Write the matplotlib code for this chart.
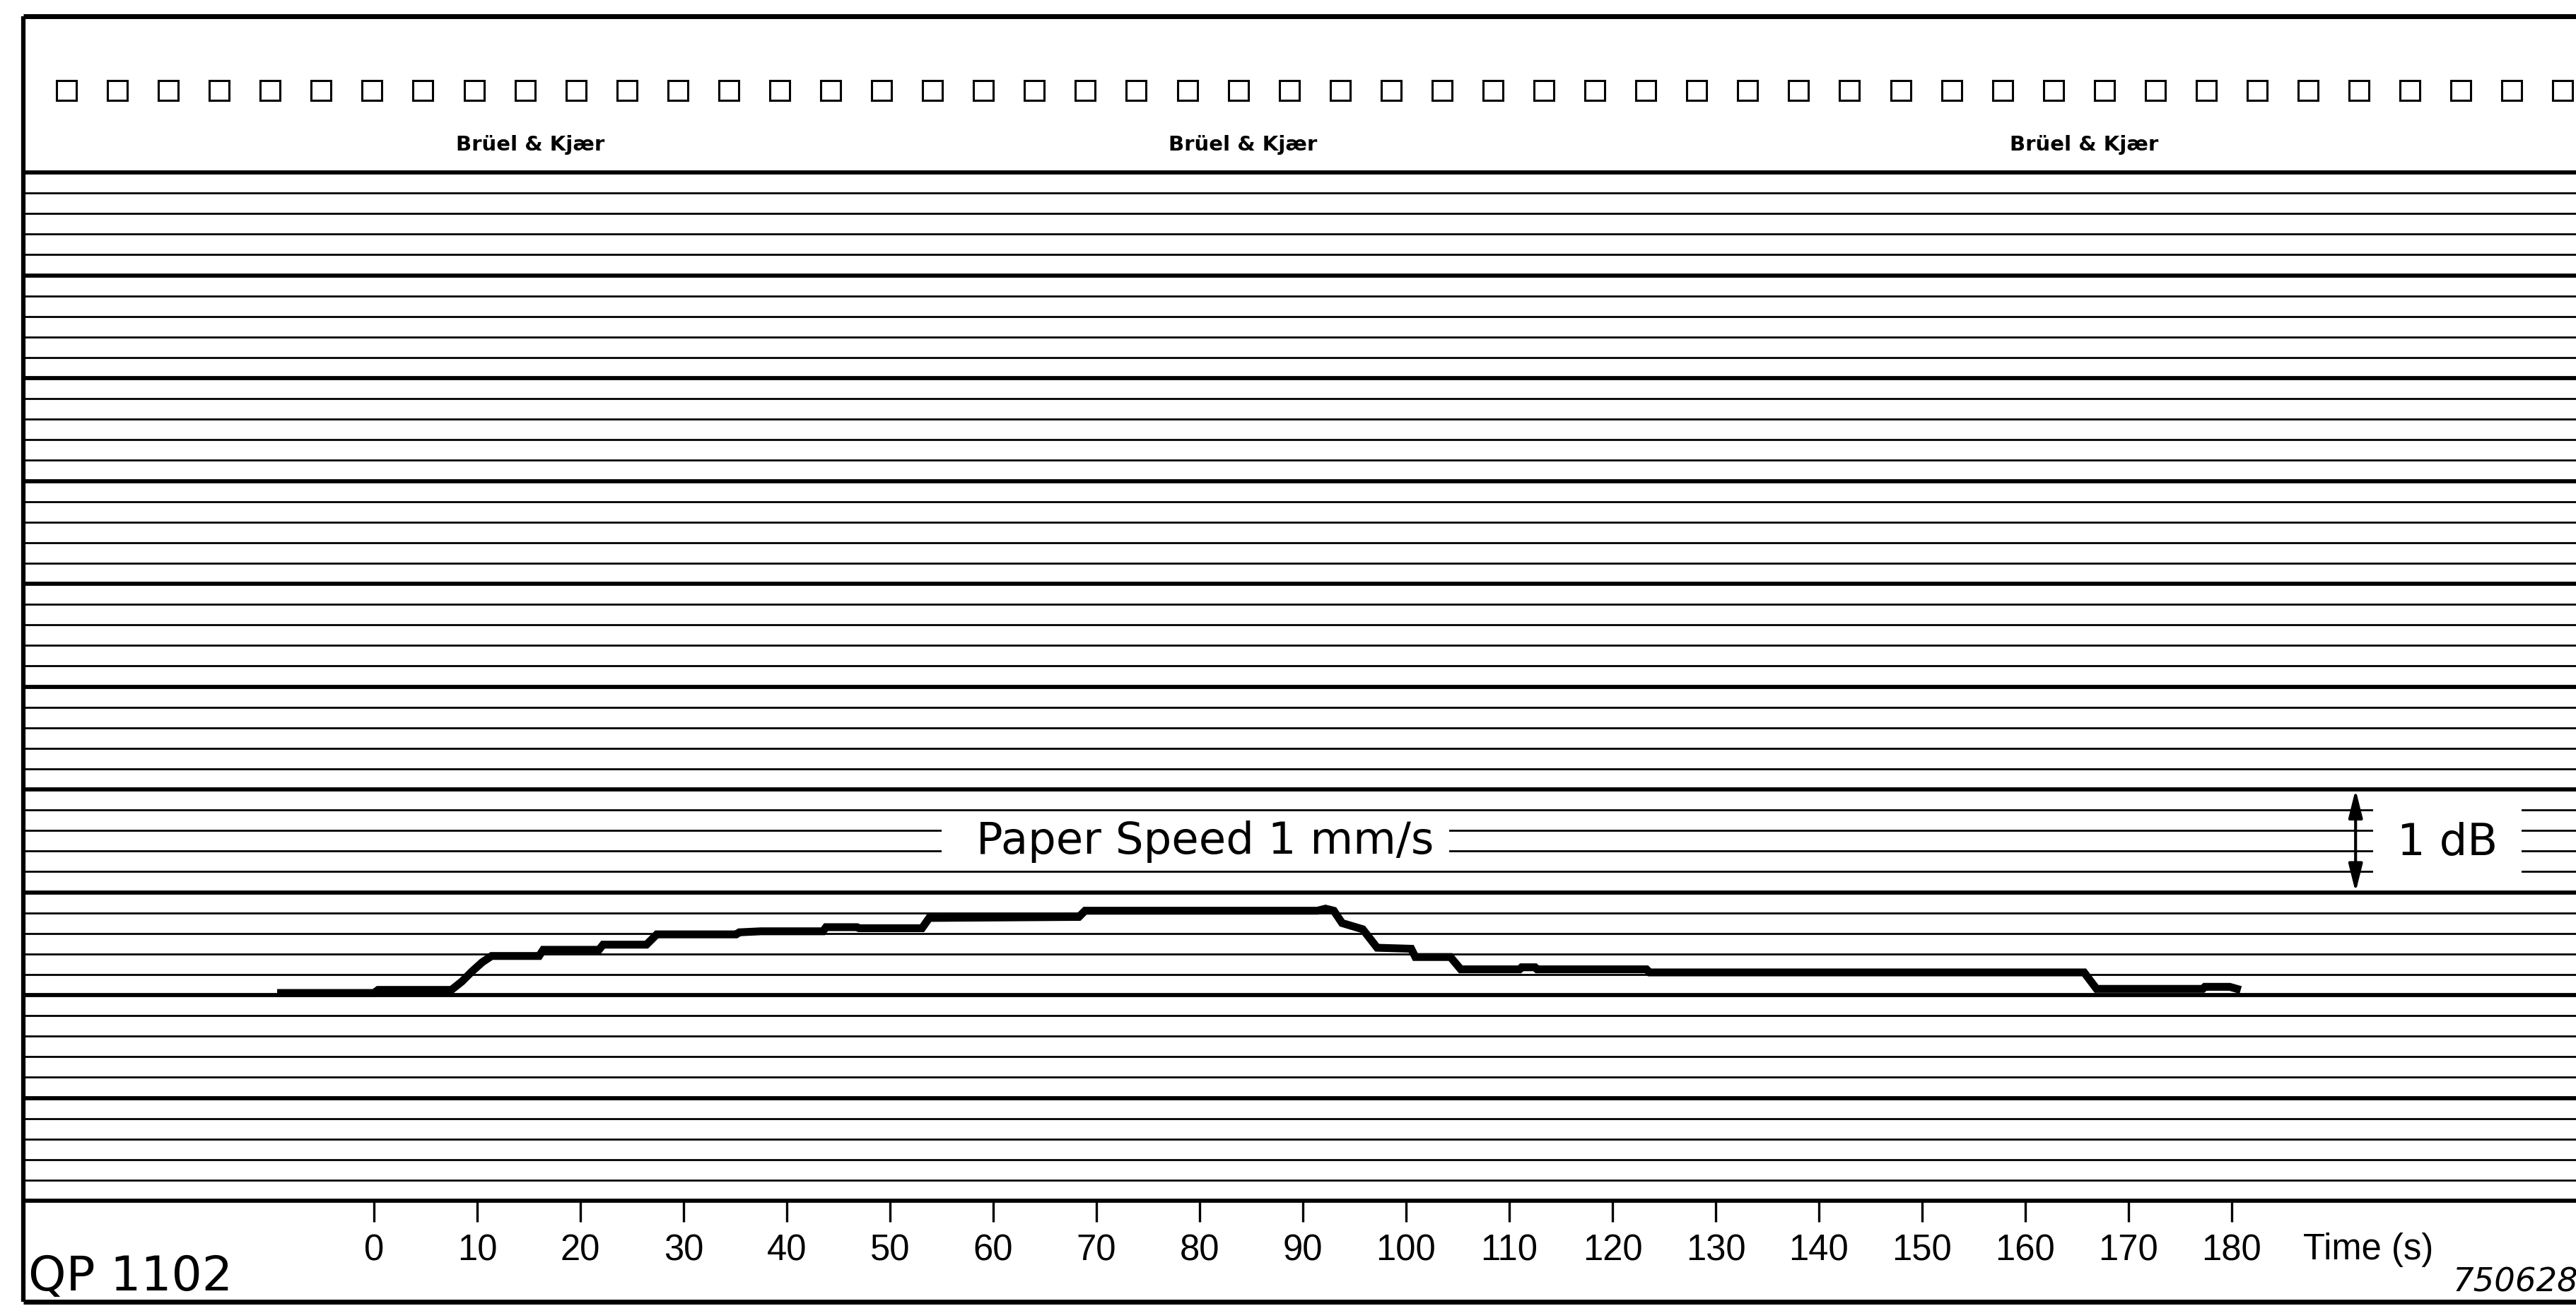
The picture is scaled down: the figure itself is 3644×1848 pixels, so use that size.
import numpy as np
import matplotlib.pyplot as plt
from matplotlib.patches import Rectangle

plt.rcParams['font.family'] = ['DejaVu Sans']

# level recorder trace: time (s) and level (dB above bottom line)
time_s = [-9.0, 0.0, 0.4, 7.5, 8.5, 9.5, 10.5, 11.4, 16.0, 16.4, 21.8, 22.2, 26.4, 27.4,
          35.1, 35.4, 37.5, 43.5, 43.8, 46.8, 47.0, 53.1, 53.8, 68.3, 68.9, 91.4, 92.2,
          93.0, 93.8, 95.8, 96.5, 97.2, 100.5, 100.9, 104.3, 105.3, 111.0, 111.2, 112.5,
          112.7, 123.3, 123.6, 165.7, 166.9, 177.2, 177.4, 179.8, 180.5]
level_db = [2.02, 2.02, 2.05, 2.05, 2.13, 2.23, 2.32, 2.38, 2.38, 2.44, 2.44, 2.49, 2.49, 2.59,
            2.59, 2.61, 2.62, 2.62, 2.66, 2.66, 2.65, 2.65, 2.75, 2.76, 2.82, 2.82, 2.84,
            2.82, 2.70, 2.64, 2.55, 2.46, 2.45, 2.37, 2.37, 2.25, 2.25, 2.27, 2.27,
            2.25, 2.25, 2.22, 2.22, 2.06, 2.06, 2.08, 2.08, 2.06]

time_ticks = list(range(0, 181, 10))
tick_labels = [str(v) for v in time_ticks]
brand_x = [750, 1758, 2948]

# page geometry in pixels
W, H = 3644, 1849
left_px, top_px, bottom_px = 33, 245, 1700
t0_px, px_per_s = 529, 14.6

fig = plt.figure(figsize=(W / 100, H / 100), dpi=100)

# background layer: frame, sprocket holes, printed texts
bg = fig.add_axes([0, 0, 1, 1])
bg.set_xlim(0, W)
bg.set_ylim(H, 0)
bg.axis('off')

bg.plot([left_px, W], [24, 24], 'k-', lw=5, solid_capstyle='butt')
bg.plot([left_px, left_px], [24, 1843], 'k-', lw=4.5, solid_capstyle='butt')
bg.plot([left_px, W], [1843, 1843], 'k-', lw=5, solid_capstyle='butt')

for i in range(50):
    cx = 94 + 72.07 * i
    bg.add_patch(Rectangle((cx - 14, 115), 28, 28, fill=False, lw=2.2, ec='k'))

for bx in brand_x:
    bg.text(bx, 213, 'Brüel & Kjær', ha='center', va='baseline', fontsize=21,
            fontweight='bold')

bg.text(40, 1826, 'QP 1102', ha='left', va='baseline', fontsize=49)
bg.text(3258, 1782, 'Time (s)', ha='left', va='baseline', fontsize=36.5,
        family='Liberation Sans')
bg.text(3470, 1827, '750628', ha='left', va='baseline', fontsize=33.5, style='italic')

# chart area in time / dB
ax = fig.add_axes([left_px / W, (H - bottom_px) / H, (W - left_px) / W,
                   (bottom_px - top_px) / H])
ax.patch.set_alpha(0)
ax.set_xlim((left_px - t0_px) / px_per_s, (W - t0_px) / px_per_s)
ax.set_ylim(0, 10)

for k in range(51):
    lv = 10 - 0.2 * k
    ax.axhline(lv, color='k', lw=4.2 if k % 5 == 0 else 2.0, clip_on=False, zorder=1)

# blank strips where the printed labels sit
ax.add_patch(Rectangle((55.0, 3.25), 49.2, 0.5, fc='white', ec='none', zorder=2))
ax.add_patch(Rectangle((193.7, 3.05), 14.4, 0.9, fc='white', ec='none', zorder=2))

ax.plot(time_s, level_db, 'k-', lw=8, solid_joinstyle='miter', zorder=3)

ax.text(80.5, 3.38, 'Paper Speed 1 mm/s', ha='center', va='baseline', fontsize=45, zorder=4)
ax.text(200.9, 3.37, '1 dB', ha='center', va='baseline', fontsize=45, zorder=4)
ax.annotate('', xy=(192.0, 4.0), xytext=(192.0, 3.0),
            arrowprops=dict(arrowstyle='<|-|>,head_length=0.8,head_width=0.2',
                            mutation_scale=30, lw=3, color='k', shrinkA=0, shrinkB=0),
            zorder=4)

ax.set_xticks(time_ticks)
ax.set_xticklabels(tick_labels, fontsize=36.5, family='Liberation Sans')
ax.tick_params(axis='x', direction='out', length=21.6, width=2.4, pad=11)
ax.set_yticks([])
for s in ax.spines.values():
    s.set_visible(False)

fig.savefig('out.png', dpi=100, facecolor='white')
